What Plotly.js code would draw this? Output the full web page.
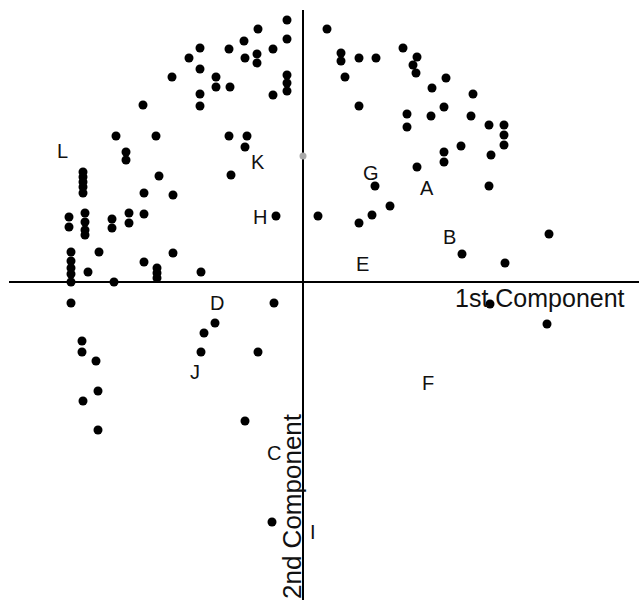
<!DOCTYPE html>
<html>
<head>
<meta charset="utf-8">
<script src="https://cdn.plot.ly/plotly-3.0.1.min.js"></script>
<style>html,body{margin:0;padding:0;background:#fff;}#chart{width:639px;height:600px;}</style>
</head>
<body>
<div id="chart"></div>
<script>
// 1st component scores
var comp1 = [
  -1.6,-4.5,-1.6,-5.9,-10.3,-7.4,-3.0,-4.6,-4.6,-5.8,-11.4,-10.3,-13.1,-8.7,-8.7,-7.3,-1.6,-1.6,-1.6,-3.0,
  -10.3,-10.3,-16.0,-18.7,-14.7,-7.4,-5.6,-5.8,-17.7,-17.7,-22.0,-22.0,-22.0,-22.0,-22.0,-14.4,-7.2,-15.9,-13.0,-2.7,
  -23.4,-23.4,-21.8,-21.8,-21.8,-21.8,-19.1,-19.1,-17.4,-17.4,-15.9,-23.2,-23.2,-23.2,-23.2,-23.2,-20.4,-21.5,-13.0,-15.9,
  -14.6,-14.6,-14.6,-10.2,-18.9,
  1.5,2.4,3.8,3.8,5.6,7.3,4.2,10.0,11.4,11.0,11.3,14.3,12.9,17.0,5.6,14.1,10.4,10.4,12.8,16.8,
  18.6,20.1,20.1,20.1,15.8,14.1,14.1,18.8,11.4,7.2,18.6,8.7,6.9,5.6,24.6,15.9,20.2,
  -23.2,-2.9,-8.8,-9.9,-10.2,-4.5,-22.1,-22.1,-20.7,-20.5,-22.0,-20.5,-5.8,-3.1,18.7,24.4
];
// 2nd component scores
var comp2 = [
  26.2,25.3,24.3,24.1,23.4,23.3,23.3,22.8,21.9,22.4,22.4,21.3,20.5,20.5,19.5,19.5,20.7,19.9,19.1,18.7,
  18.8,17.6,17.7,14.6,14.6,14.6,14.6,13.5,13.0,12.2,11.0,10.5,10.0,9.5,8.9,10.6,10.7,8.9,8.7,6.6,
  6.5,5.5,6.9,6.0,5.2,4.7,6.3,5.4,6.9,5.9,6.8,3.0,2.1,1.4,0.8,0.0,3.0,1.0,2.9,2.0,
  1.4,0.9,0.4,1.0,0.0,
  6.6,25.3,22.9,22.1,22.4,22.4,20.5,23.4,22.5,21.7,20.9,20.4,19.4,18.8,17.6,17.5,16.8,15.5,16.6,16.6,
  15.7,15.7,14.7,13.7,13.6,13.0,12.0,12.7,11.5,9.6,9.6,7.6,6.7,5.9,4.8,2.8,1.9,
  -2.1,-2.1,-4.1,-5.1,-7.0,-7.0,-5.9,-7.0,-7.9,-10.9,-11.9,-14.8,-13.9,-24.0,-2.2,-4.2
];
// faint point on the 2nd axis
var faintX = [0.0];
var faintY = [12.6];

// group labels
var labelText = ["L","K","H","G","A","B","E","D","J","C","I","F"];
var labelX = [-24.1,-4.5,-4.3,6.8,12.4,14.6,5.9,-8.6,-10.8,-2.9,1.0,12.5];
var labelY = [13.1,12.0,6.5,10.9,9.4,4.5,1.8,-2.1,-9.0,-17.1,-25.0,-10.1];

var axisTitles = ["1st Component","2nd Component"];

var fontFam = "Liberation Sans, Arial, sans-serif";

var annotations = labelText.map(function(t,i){
  return {x:labelX[i], y:labelY[i], text:t, showarrow:false, xref:'x', yref:'y',
          font:{family:fontFam, size:20, color:'#111'}};
});
annotations.push({x:23.7, y:-1.6, text:axisTitles[0], showarrow:false, xref:'x', yref:'y',
  font:{family:fontFam, size:25, color:'#111'}});
annotations.push({x:-1.1, y:-22.4, text:axisTitles[1], showarrow:false, xref:'x', yref:'y', textangle:-90,
  font:{family:fontFam, size:26, color:'#111'}});

var traces = [
  {x:comp1, y:comp2, mode:'markers', type:'scatter', marker:{color:'#000', size:9}, hoverinfo:'none'},
  {x:faintX, y:faintY, mode:'markers', type:'scatter', marker:{color:'#aaa', size:7}, hoverinfo:'none'}
];

var layout = {
  width:639, height:600,
  margin:{l:0,r:0,t:0,b:0},
  paper_bgcolor:'#fff', plot_bgcolor:'#fff',
  showlegend:false,
  xaxis:{range:[-30.3,33.6], showgrid:false, zeroline:false, showticklabels:false, ticks:'', showline:false, fixedrange:true},
  yaxis:{range:[-31.8,28.2], showgrid:false, zeroline:false, showticklabels:false, ticks:'', showline:false, fixedrange:true},
  shapes:[
    {type:'line', xref:'x', yref:'y', x0:-29.4, x1:33.6, y0:0, y1:0, line:{color:'#000', width:2}, layer:'below'},
    {type:'line', xref:'x', yref:'y', x0:0, x1:0, y0:27.2, y1:-31.8, line:{color:'#000', width:2}, layer:'below'}
  ],
  annotations:annotations
};

Plotly.newPlot('chart', traces, layout, {staticPlot:true, displayModeBar:false});
</script>
</body>
</html>
